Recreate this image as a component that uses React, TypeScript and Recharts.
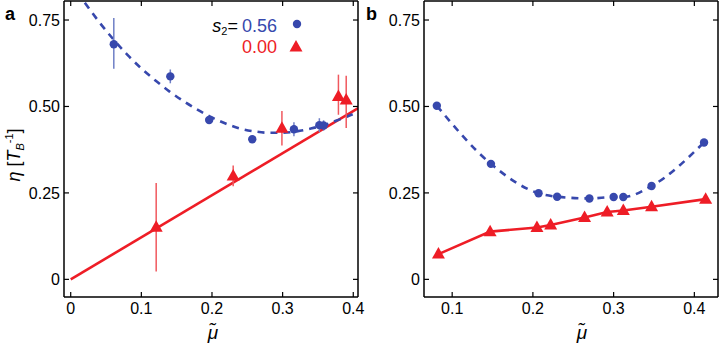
import { ComposedChart, ErrorBar, Line, Scatter, XAxis, YAxis } from 'recharts'

const FONT = '"Liberation Sans", Arial, Helvetica, sans-serif'
const BLUE = '#3748ad'
const RED = '#ee1d26'
const BLUE_ERR = '#6f7fc6'
const RED_ERR = '#f0585e'

// panel a: measured points (mu, eta, err below, err above)
const aBlueMu = [0.061, 0.141, 0.196, 0.257, 0.316, 0.352, 0.358]
const aBlueEta = [0.68, 0.587, 0.461, 0.405, 0.434, 0.446, 0.445]
const aBlueErrLo = [0.071, 0.02, 0.01, 0.008, 0.02, 0.02, 0.015]
const aBlueErrHi = [0.076, 0.02, 0.01, 0.008, 0.02, 0.02, 0.015]

const aRedMu = [0.121, 0.23, 0.299, 0.379, 0.39]
const aRedEta = [0.151, 0.299, 0.437, 0.529, 0.519]
const aRedErrLo = [0.128, 0.03, 0.05, 0.053, 0.081]
const aRedErrHi = [0.128, 0.03, 0.05, 0.063, 0.07]

// panel a: fitted curves
const aFitMu = [0.02, 0.04, 0.06, 0.08, 0.1, 0.12, 0.14, 0.16, 0.18, 0.2, 0.22, 0.24, 0.26, 0.28, 0.3, 0.32, 0.34, 0.36, 0.38, 0.4, 0.407]
const aFitEta = [0.8, 0.745, 0.695, 0.65, 0.61, 0.575, 0.543, 0.515, 0.49, 0.468, 0.45, 0.436, 0.428, 0.424, 0.424, 0.428, 0.436, 0.447, 0.462, 0.478, 0.484]
const aLineMu = [0, 0.407]
const aLineEta = [0, 0.495]

// panel b
const bBlueMu = [0.081, 0.148, 0.207, 0.23, 0.27, 0.3, 0.312, 0.347, 0.412]
const bBlueEta = [0.502, 0.334, 0.249, 0.239, 0.234, 0.238, 0.238, 0.27, 0.396]
const bRedMu = [0.083, 0.147, 0.205, 0.222, 0.264, 0.292, 0.312, 0.347, 0.414]
const bRedEta = [0.073, 0.138, 0.15, 0.157, 0.179, 0.195, 0.199, 0.21, 0.232]

const yTicks = [0, 0.25, 0.5, 0.75]
const aXTicks = [0, 0.1, 0.2, 0.3, 0.4]
const bXTicks = [0.1, 0.2, 0.3, 0.4]
const yDomain = [-0.051, 0.805]

const zip = (xs: number[], ys: number[], lo?: number[], hi?: number[]) =>
    xs.map((x, i) => ({ x, y: ys[i], err: lo && hi ? [lo[i], hi[i]] : undefined }))

const fmtX = (v: number) => (v === 0 ? '0' : v.toFixed(1))
const fmtY = (v: number) => (v === 0 ? '0' : v.toFixed(2))
const blank = () => ''

const tickStyle = { fontFamily: FONT, fontSize: 16, fill: '#000' }
const frameLine = { stroke: '#000', strokeWidth: 1.5 }
const tickLine = { stroke: '#000', strokeWidth: 1.2 }

function Dot(props: any) {
    const { cx, cy } = props
    if (cx == null || cy == null) return <g />
    return <circle cx={cx} cy={cy} r={4.2} fill={BLUE} />
}

function Tri(props: any) {
    const { cx, cy } = props
    if (cx == null || cy == null) return <g />
    return <polygon points={`${cx},${cy - 7} ${cx - 6.5},${cy + 4.5} ${cx + 6.5},${cy + 4.5}`} fill={RED} />
}

// frame with inward ticks on all four sides; top and right axes carry no labels
function frame(xDomain: number[], xTicks: number[]) {
    return [
        <XAxis key="xb" type="number" dataKey="x" domain={xDomain} ticks={xTicks} allowDataOverflow interval={0}
            height={49} tickSize={-5} tickMargin={11} axisLine={frameLine} tickLine={tickLine} tick={tickStyle} tickFormatter={fmtX} />,
        <XAxis key="xt" xAxisId="top" orientation="top" type="number" dataKey="x" domain={xDomain} ticks={xTicks} allowDataOverflow
            interval={0} height={1} tickSize={-5} axisLine={frameLine} tickLine={tickLine} tickFormatter={blank} />,
        <YAxis key="yl" type="number" dataKey="y" domain={yDomain} ticks={yTicks} allowDataOverflow interval={0}
            width={64} tickSize={-5} tickMargin={9} axisLine={frameLine} tickLine={tickLine} tick={tickStyle} tickFormatter={fmtY} />,
        <YAxis key="yr" yAxisId="right" orientation="right" type="number" dataKey="y" domain={yDomain} ticks={yTicks} allowDataOverflow
            interval={0} width={1} tickSize={-5} axisLine={frameLine} tickLine={tickLine} tickFormatter={blank} />,
    ]
}

export default function App() {
    return (
        <div style={{ position: 'absolute', left: 0, top: 0, width: 720, height: 346, background: '#fff' }}>
            <div style={{ position: 'absolute', left: 0, top: 0 }}>
                <ComposedChart width={372} height={346} margin={{ top: 0, right: 13, left: 0, bottom: 0 }}>
                    {frame([-0.0095, 0.4067], aXTicks)}
                    <Line data={zip(aLineMu, aLineEta)} dataKey="y" stroke={RED} strokeWidth={2.6} dot={false} isAnimationActive={false} />
                    <Line data={zip(aFitMu, aFitEta)} dataKey="y" type="monotone" stroke={BLUE} strokeWidth={2.6}
                        strokeDasharray="7 6" dot={false} isAnimationActive={false} />
                    <Scatter data={zip(aBlueMu, aBlueEta, aBlueErrLo, aBlueErrHi)} dataKey="y" shape={Dot} isAnimationActive={false}>
                        <ErrorBar dataKey="err" direction="y" width={0} stroke={BLUE_ERR} strokeWidth={1.5} />
                    </Scatter>
                    <Scatter data={zip(aRedMu, aRedEta, aRedErrLo, aRedErrHi)} dataKey="y" shape={Tri} isAnimationActive={false}>
                        <ErrorBar dataKey="err" direction="y" width={0} stroke={RED_ERR} strokeWidth={1.5} />
                    </Scatter>
                </ComposedChart>
            </div>
            <div style={{ position: 'absolute', left: 360, top: 0 }}>
                <ComposedChart width={360} height={346} margin={{ top: 0, right: 1, left: 0, bottom: 0 }}>
                    {frame([0.0651, 0.4293], bXTicks)}
                    <Line data={zip(bBlueMu, bBlueEta)} dataKey="y" type="monotone" stroke={BLUE} strokeWidth={2.6}
                        strokeDasharray="7 6" dot={false} isAnimationActive={false} />
                    <Line data={zip(bRedMu, bRedEta)} dataKey="y" stroke={RED} strokeWidth={2.6} dot={false} isAnimationActive={false} />
                    <Scatter data={zip(bBlueMu, bBlueEta)} dataKey="y" shape={Dot} isAnimationActive={false} />
                    <Scatter data={zip(bRedMu, bRedEta)} dataKey="y" shape={Tri} isAnimationActive={false} />
                </ComposedChart>
            </div>
            <svg width={720} height={346} style={{ position: 'absolute', left: 0, top: 0, pointerEvents: 'none' }}
                fontFamily={FONT}>
                <text x={5} y={20} fontSize={18} fontWeight="bold">a</text>
                <text x={366} y={20} fontSize={18} fontWeight="bold">b</text>
                <text transform="translate(20,155) rotate(-90)" textAnchor="middle" fontSize={18}>
                    <tspan fontStyle="italic">η</tspan> [<tspan fontStyle="italic">T</tspan>
                    <tspan fontSize={11} dy={4} fontStyle="italic">B</tspan>
                    <tspan fontSize={11} dy={-11}>-1</tspan>
                    <tspan dy={7}>]</tspan>
                </text>
                <text x={213} y={339} textAnchor="middle" fontSize={19} fontStyle="italic">μ̃</text>
                <text x={582} y={339} textAnchor="middle" fontSize={19} fontStyle="italic">μ̃</text>
                <text x={238} y={32} textAnchor="end" fontSize={18}>
                    <tspan fontStyle="italic">s</tspan>
                    <tspan fontSize={11} dy={3}>2</tspan>
                    <tspan dy={-3}>=</tspan>
                </text>
                <text x={242} y={32} fontSize={18} fill={BLUE}>0.56</text>
                <text x={242} y={53} fontSize={18} fill={RED}>0.00</text>
                <circle cx={297} cy={24} r={4.2} fill={BLUE} />
                <polygon points="296,40 289.5,51.5 302.5,51.5" fill={RED} />
            </svg>
        </div>
    )
}
